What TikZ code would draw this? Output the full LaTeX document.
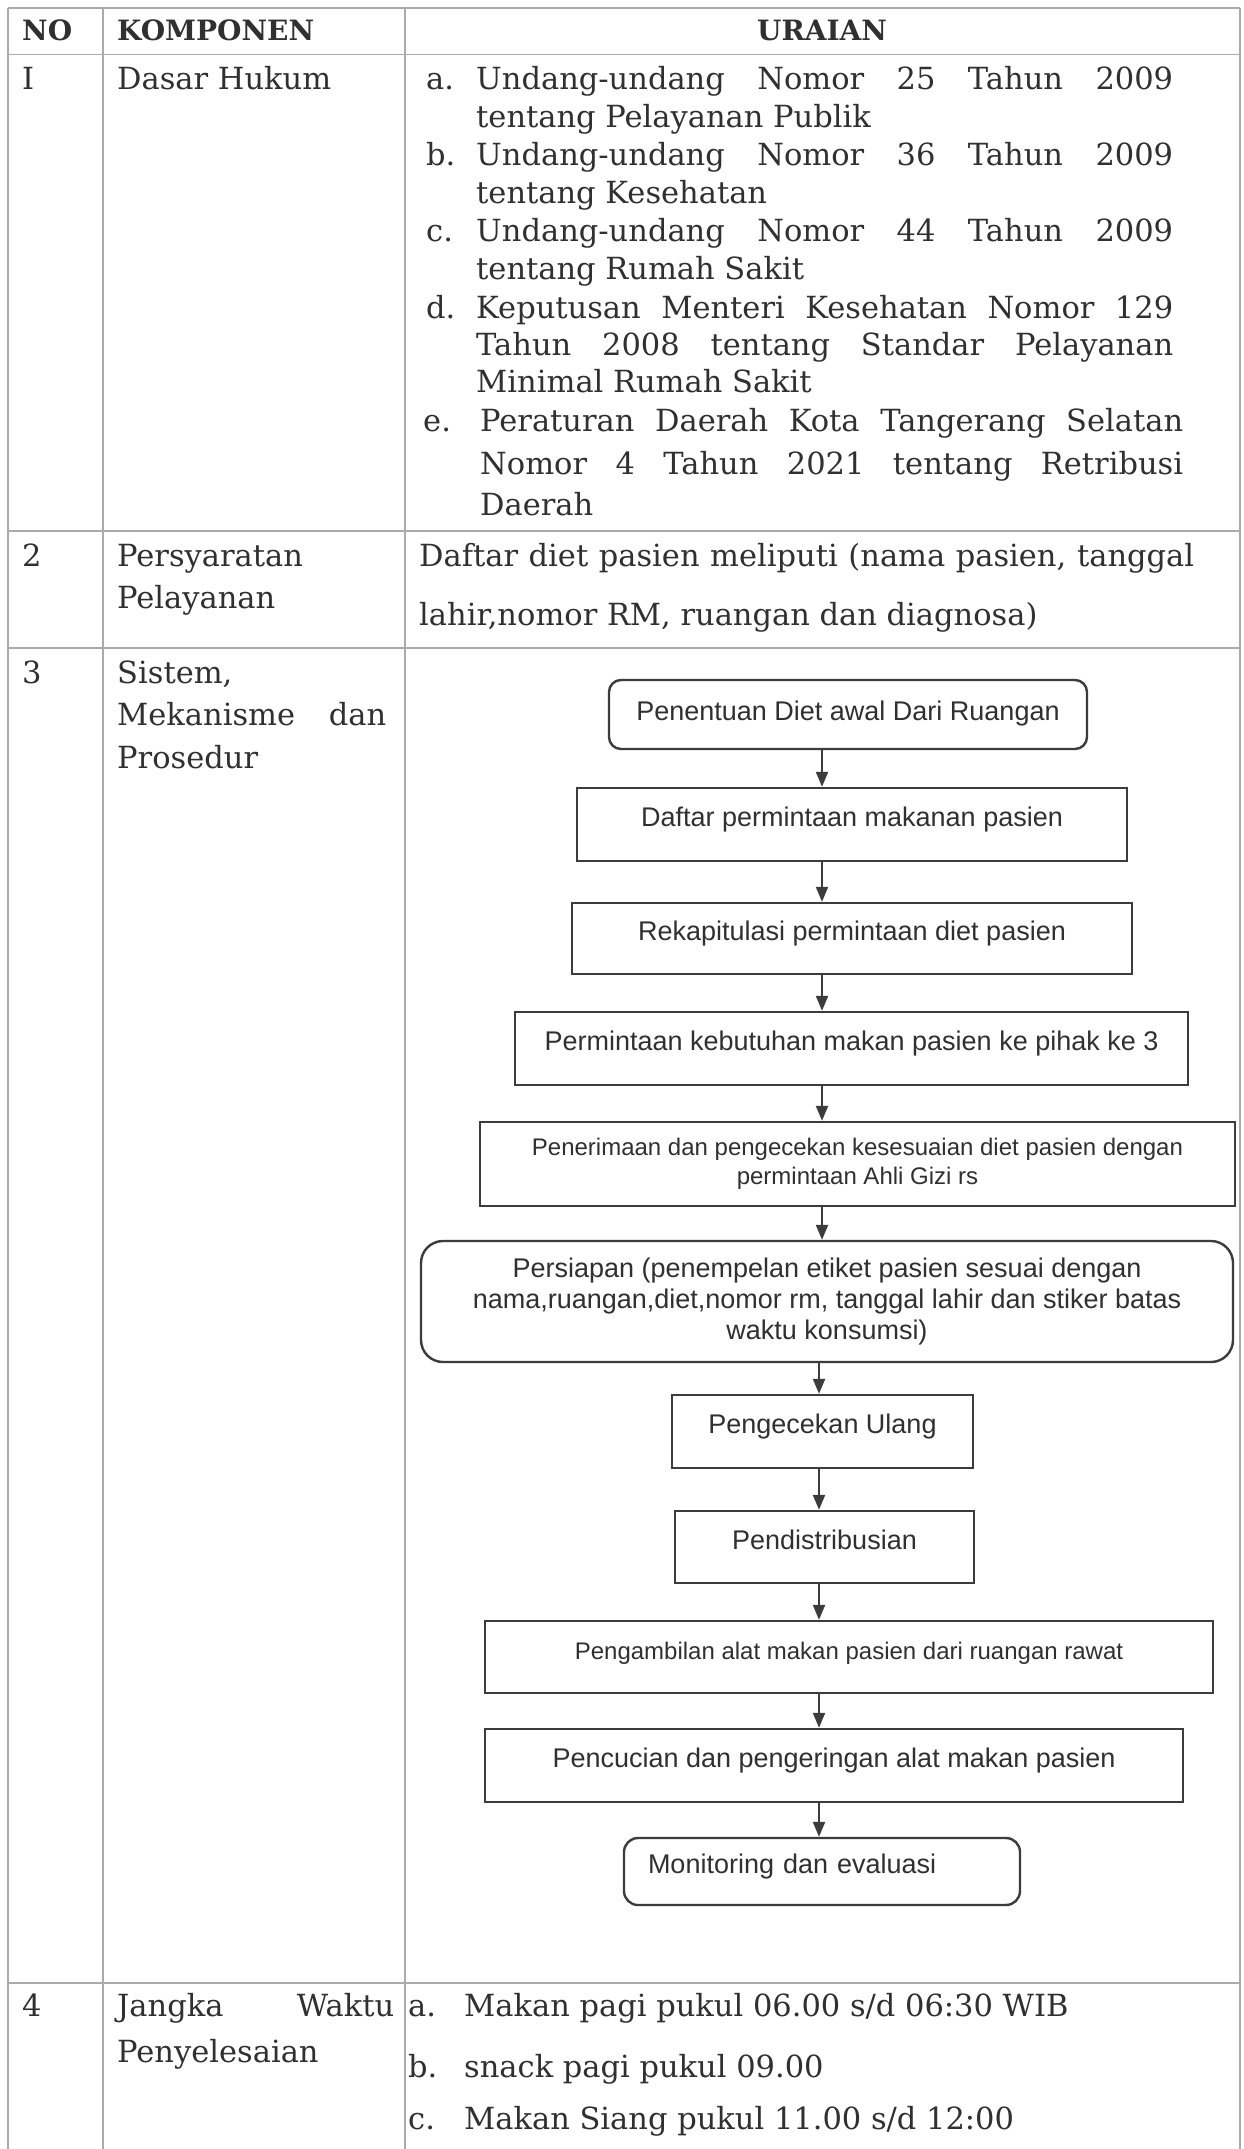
\documentclass[tikz,border=0pt]{standalone}
\usepackage{fontspec}
\setmainfont{DejaVu Serif}
\newfontfamily\arialfont{Liberation Sans}
\usepackage{xcolor}
\usetikzlibrary{positioning,arrows.meta}
\definecolor{garis}{HTML}{ABABAB}
\definecolor{tinta}{HTML}{303030}
\definecolor{alur}{HTML}{3C3C3C}
\newcommand{\rata}[2]{\makebox[#2pt][s]{#1}}

\begin{document}
\begin{tikzpicture}[x=1pt,y=-1pt,
    isi/.style={anchor=base west,inner sep=0pt,text=tinta,font=\fontsize{30.5}{38}\selectfont},
    judul/.style={inner sep=0pt,text=tinta,font=\fontsize{28}{34}\selectfont\bfseries},
    kotak/.style={draw=alur,line width=2.4pt,text=tinta,inner sep=0pt,align=center,
        font=\arialfont\fontsize{27}{31}\selectfont},
    baris/.style={text height=22pt,text depth=18pt},
    panah/.style={draw=alur,line width=2.2pt,-{Triangle[length=15pt,width=12pt]}}]

    \def\kiri{8}
    \def\kanan{1240}
    \useasboundingbox[fill=white] (0,0) rectangle (1244,2149);

    % garis tabel
    \draw[garis,line width=1.3pt] (\kiri,8) -- (\kanan,8);
    \foreach \y in {54.5,531,648,1983}
        \draw[garis,line width=1.3pt] (\kiri,\y) -- (\kanan,\y);
    \foreach \x in {8,103,405,1240}
        \draw[garis,line width=1.3pt] (\x,8) -- (\x,2149);

    % kepala tabel
    \node[judul,anchor=base west] (no) at (22,41) {NO};
    \node[judul,anchor=base west] (komponen) at (117,41) {KOMPONEN};
    \node[judul,anchor=base] (uraian) at (822,41) {URAIAN};

    % baris I
    \node[isi] (n1) at (22,89) {I};
    \node[isi] (dasar) at (117,89) {Dasar Hukum};
    \foreach \h/\y in {a/89,b/165,c/241,d/318}
        \node[isi] (huruf\h) at (426,\y) {\h.};
    \node[isi] (hurufe) at (423,431) {e.};
    \node[isi] (a1) at (476,89) {\rata{Undang-undang Nomor 25 Tahun 2009}{697}};
    \node[isi] (a2) at (476,127) {tentang Pelayanan Publik};
    \node[isi] (b1) at (476,165) {\rata{Undang-undang Nomor 36 Tahun 2009}{697}};
    \node[isi] (b2) at (476,203) {tentang Kesehatan};
    \node[isi] (c1) at (476,241) {\rata{Undang-undang Nomor 44 Tahun 2009}{697}};
    \node[isi] (c2) at (476,279) {tentang Rumah Sakit};
    \node[isi] (d1) at (476,318) {\rata{Keputusan Menteri Kesehatan Nomor 129}{697}};
    \node[isi] (d2) at (476,355) {\rata{Tahun 2008 tentang Standar Pelayanan}{697}};
    \node[isi] (d3) at (476,392) {Minimal Rumah Sakit};
    \node[isi] (e1) at (480,431) {\rata{Peraturan Daerah Kota Tangerang Selatan}{703}};
    \node[isi] (e2) at (480,474) {\rata{Nomor 4 Tahun 2021 tentang Retribusi}{703}};
    \node[isi] (e3) at (480,515) {Daerah};

    % baris 2
    \node[isi] (n2) at (22,566) {2};
    \node[isi] (syarat) at (117,566) {Persyaratan};
    \node[isi] (layan) at (117,608) {Pelayanan};
    \node[isi] (daftar1) at (419,566) {\rata{Daftar diet pasien meliputi (nama pasien, tanggal}{775}};
    \node[isi] (daftar2) at (419,625) {lahir,nomor RM, ruangan dan diagnosa)};

    % baris 3
    \node[isi] (n3) at (22,683) {3};
    \node[isi] (sistem) at (117,683) {Sistem,};
    \node[isi] (mekanisme) at (117,725) {\rata{Mekanisme dan}{269}};
    \node[isi] (prosedur) at (117,768) {Prosedur};

    % alur
    \coordinate (lajur) at (822,0);
    \coordinate (lajurb) at (819,0);
    \node[kotak,text height=25.5pt,text depth=14.5pt,rounded corners=12pt,minimum width=478,minimum height=69] (penentuan) at (848,714.5) {Penentuan Diet awal Dari Ruangan};
    \node[kotak,baris,minimum width=550,minimum height=73] (daftar) at (852,824.5) {Daftar permintaan makanan pasien};
    \node[kotak,baris,minimum width=560,minimum height=71] (rekap) at (852,938.5) {Rekapitulasi permintaan diet pasien};
    \node[kotak,baris,minimum width=673,minimum height=73] (pihak) at (851.5,1048.5) {Permintaan kebutuhan makan pasien ke pihak ke 3};
    \node[kotak,minimum width=755,minimum height=84,font=\arialfont\fontsize{24}{29}\selectfont] (terima) at (857.5,1164)
        {Penerimaan dan pengecekan kesesuaian diet pasien dengan\\permintaan Ahli Gizi rs};
    \node[kotak,rounded corners=22pt,minimum width=812,minimum height=121] (siap) at (827,1301.5)
        {Persiapan (penempelan etiket pasien sesuai dengan\\nama,ruangan,diet,nomor rm, tanggal lahir dan stiker batas\\waktu konsumsi)};
    \node[kotak,baris,minimum width=301,minimum height=73] (ulang) at (822.5,1431.5) {Pengecekan Ulang};
    \node[kotak,baris,minimum width=299,minimum height=72] (distribusi) at (824.5,1547) {Pendistribusian};
    \node[kotak,baris,minimum width=728,minimum height=72,font=\arialfont\fontsize{24}{29}\selectfont] (ambil) at (849,1657)
        {Pengambilan alat makan pasien dari ruangan rawat};
    \node[kotak,baris,minimum width=698,minimum height=73] (cuci) at (834,1765.5) {Pencucian dan pengeringan alat makan pasien};
    \node[kotak,baris,rounded corners=14pt,text width=348pt,inner xsep=24pt,align=left,minimum height=67] (monev) at (822,1871.5)
        {Monitoring dan evaluasi};

    \draw[panah] (penentuan.south -| lajur) -- (daftar.north -| lajur);
    \draw[panah] (daftar.south -| lajur) -- (rekap.north -| lajur);
    \draw[panah] (rekap.south -| lajur) -- (pihak.north -| lajur);
    \draw[panah] (pihak.south -| lajur) -- (terima.north -| lajur);
    \draw[panah] (terima.south -| lajur) -- (siap.north -| lajur);
    \draw[panah] (siap.south -| lajurb) -- (ulang.north -| lajurb);
    \draw[panah] (ulang.south -| lajurb) -- (distribusi.north -| lajurb);
    \draw[panah] (distribusi.south -| lajurb) -- (ambil.north -| lajurb);
    \draw[panah] (ambil.south -| lajurb) -- (cuci.north -| lajurb);
    \draw[panah] (cuci.south -| lajurb) -- (monev.north -| lajurb);

    % baris 4
    \node[isi] (n4) at (22,2016) {4};
    \node[isi] (jangka) at (117,2016) {\rata{Jangka Waktu}{277}};
    \node[isi] (selesai) at (117,2062) {Penyelesaian};
    \node[isi] (hurufpa) at (408,2016) {a.};
    \node[isi] (pagi) at (464,2016) {Makan pagi pukul 06.00 s/d 06:30 WIB};
    \node[isi] (hurufpb) at (408,2077) {b.};
    \node[isi] (snack) at (464,2077) {snack pagi pukul 09.00};
    \node[isi] (hurufpc) at (408,2129) {c.};
    \node[isi] (siang) at (464,2129) {Makan Siang pukul 11.00 s/d 12:00};
\end{tikzpicture}
\end{document}
